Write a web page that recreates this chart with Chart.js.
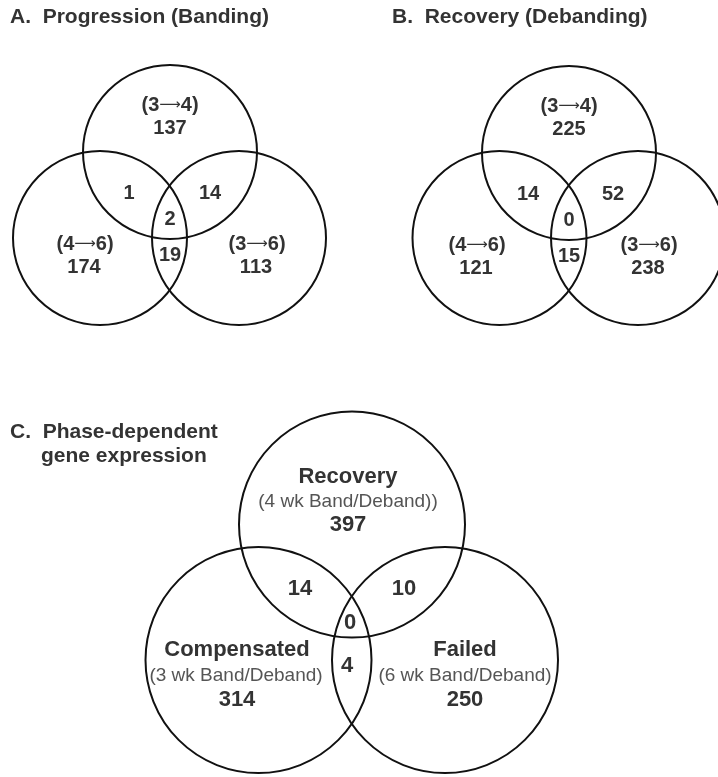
<!DOCTYPE html>
<html>
<head>
<meta charset="utf-8">
<script src="https://cdn.jsdelivr.net/npm/chart.js@4.4.1/dist/chart.umd.min.js"></script>
<style>
  body { margin: 0; background: #fff; }
  canvas { display: block; }
</style>
</head>
<body>
<canvas id="venn" width="718" height="777"></canvas>
<script>
// region order: [top only, left only, right only, top&left, top&right, left&right, all three]
const titlesAB = ['A.  Progression (Banding)', 'B.  Recovery (Debanding)'];
const titleC = ['C.  Phase-dependent', 'gene expression'];
const setsAB = ['(3→4)', '(4→6)', '(3→6)'];
const countsA = [137, 174, 113, 1, 14, 19, 2];
const countsB = [225, 121, 238, 14, 52, 15, 0];
const setsC = ['Recovery', 'Compensated', 'Failed'];
const subC = ['(4 wk Band/Deband))', '(3 wk Band/Deband)', '(6 wk Band/Deband)'];
const countsC = [397, 314, 250, 14, 10, 4, 0];

// layout (page pixels): circle centres and radius for each panel
const layout = [
    { circles: [[170, 152], [100, 238], [239, 238]], r: 87 },
    { circles: [[569, 153], [499.5, 238], [638, 238]], r: 87 },
    { circles: [[352, 524.5], [258.5, 660], [445, 660]], r: 113 }
];

const ink = '#333';
const bold20 = 'bold 20px "Liberation Sans", Arial, sans-serif';
const bold21 = 'bold 21px "Liberation Sans", Arial, sans-serif';
const bold22 = 'bold 22px "Liberation Sans", Arial, sans-serif';
const reg19 = '19px "Liberation Sans", Arial, sans-serif';
const arrowFont = '15px "DejaVu Sans", sans-serif';

// text labels [text, x, y, font, colour, align]
const labels = [];
titlesAB.forEach((t, i) => labels.push([t, i === 0 ? 10 : 392, 17, bold21, ink, 'left']));
labels.push([titleC[0], 10, 432, bold21, ink, 'left']);
labels.push([titleC[1], 41, 456, bold21, ink, 'left']);

// panels A and B share one arrangement
[countsA, countsB].forEach((counts, p) => {
    const [tx, ty] = layout[p].circles[0];
    const sx = p === 0 ? 0 : -7;
    labels.push([setsAB[0], tx, ty - 47, bold20, ink]);
    labels.push([counts[0], tx, ty - 24, bold20, ink]);
    labels.push([setsAB[1], tx - 85 + sx, ty + 92, bold20, ink]);
    labels.push([counts[1], tx - 86 + sx, ty + 115, bold20, ink]);
    labels.push([setsAB[2], tx + 87 + sx, ty + 92, bold20, ink]);
    labels.push([counts[2], tx + 86 + sx, ty + 115, bold20, ink]);
    labels.push([counts[3], tx - 41, ty + 41, bold20, ink]);
    labels.push([counts[4], tx + 40 + (p === 0 ? 0 : 4), ty + 41, bold20, ink]);
    labels.push([counts[5], tx, ty + 103, bold20, ink]);
    labels.push([counts[6], tx, ty + 67, bold20, ink]);
});

labels.push([setsC[0], 348, 477, bold22, ink]);
labels.push([subC[0], 348, 502, reg19, '#555']);
labels.push([countsC[0], 348, 525, bold22, ink]);
labels.push([setsC[1], 237, 650, bold22, ink]);
labels.push([subC[1], 236, 676, reg19, '#555']);
labels.push([countsC[1], 237, 700, bold22, ink]);
labels.push([setsC[2], 465, 650, bold22, ink]);
labels.push([subC[2], 465, 676, reg19, '#555']);
labels.push([countsC[2], 465, 700, bold22, ink]);
labels.push([countsC[3], 300, 589, bold22, ink]);
labels.push([countsC[4], 404, 589, bold22, ink]);
labels.push([countsC[5], 347, 666, bold22, ink]);
labels.push([countsC[6], 350, 623, bold22, ink]);

// "(3→4)" style labels: draw the arrow as a long thin one
function drawArrowLabel(ctx, text, px, py, font) {
    const [a, b] = text.split('→');
    const arrow = '⟶';
    ctx.font = font;
    const wa = ctx.measureText(a).width, wb = ctx.measureText(b).width;
    ctx.font = arrowFont;
    const wr = ctx.measureText(arrow).width;
    let cx = px - (wa + wr + wb) / 2;
    ctx.textAlign = 'left';
    ctx.font = font;
    ctx.fillText(a, cx, py);
    ctx.font = arrowFont;
    ctx.fillText(arrow, cx + wa, py);
    ctx.font = font;
    ctx.fillText(b, cx + wa + wr, py);
}

const vennLabels = {
    id: 'vennLabels',
    afterDatasetsDraw(chart) {
        const { ctx, scales: { x, y } } = chart;
        ctx.save();
        ctx.textBaseline = 'middle';
        labels.forEach(([text, lx, ly, font, color, align]) => {
            const px = x.getPixelForValue(lx), py = y.getPixelForValue(ly);
            ctx.fillStyle = color;
            if (String(text).includes('→')) {
                drawArrowLabel(ctx, text, px, py, font);
                return;
            }
            ctx.font = font;
            ctx.textAlign = align || 'center';
            ctx.fillText(String(text), px, py);
        });
        ctx.restore();
    }
};

const ctx = document.getElementById('venn');

new Chart(ctx, {
    type: 'bubble',
    data: {
        datasets: layout.map(panel => ({
            data: panel.circles.map(([cx, cy]) => ({ x: cx, y: cy, r: panel.r })),
            backgroundColor: 'rgba(0, 0, 0, 0)',
            borderColor: '#111',
            borderWidth: 2,
            hoverRadius: 0,
            clip: false
        }))
    },
    options: {
        responsive: false,
        animation: false,
        events: [],
        layout: { padding: 0, autoPadding: false },
        plugins: {
            legend: { display: false },
            tooltip: { enabled: false }
        },
        scales: {
            x: { type: 'linear', min: 0, max: 718, display: false },
            y: { type: 'linear', min: 0, max: 777, reverse: true, display: false }
        }
    },
    plugins: [vennLabels]
});
</script>
</body>
</html>
